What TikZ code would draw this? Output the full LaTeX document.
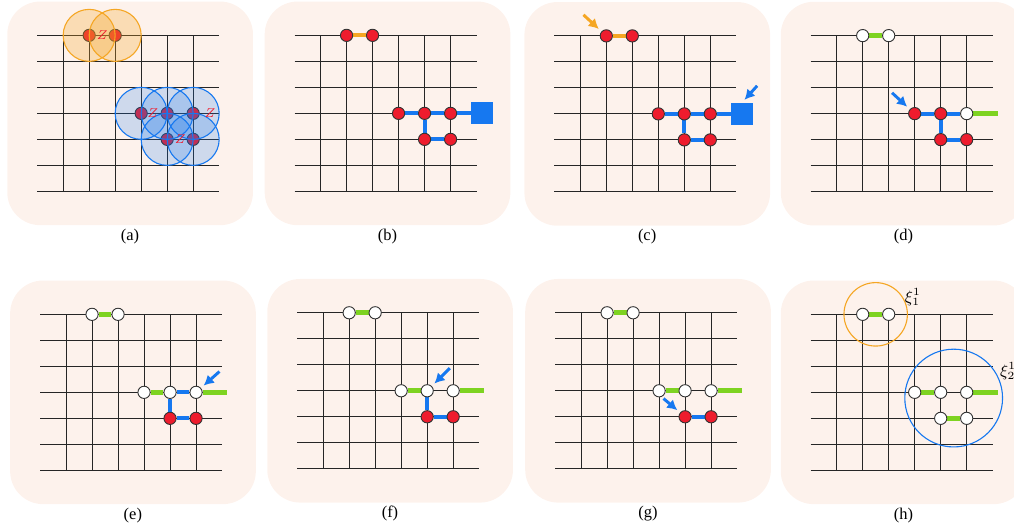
\documentclass[tikz,border=0pt]{standalone}
\usepackage{fontspec}
\setmainfont{Liberation Serif}
\usepackage{tikz}
\usetikzlibrary{arrows.meta, calc, positioning}

\definecolor{panelbg}{RGB}{253,242,236}
\definecolor{errred}{RGB}{238,28,45}
\definecolor{qblue}{RGB}{22,120,240}
\definecolor{qgreen}{RGB}{126,211,33}
\definecolor{qorange}{RGB}{245,166,35}

\pgfdeclarelayer{back}
\pgfdeclarelayer{mid}
\pgfsetlayers{back,mid,main}

\tikzset{
  gridline/.style={black!85, line width=0.55pt},
  qubit/.style={circle, draw=black!80, line width=0.5pt, minimum size=6.7pt, inner sep=0pt},
  errq/.style={qubit, fill=errred},
  okq/.style={qubit, fill=white},
  stab/.style={fill=qblue, minimum size=12pt, inner sep=0pt},
  bedge/.style={qblue, line width=2.2pt},
  gedge/.style={qgreen, line width=2.8pt},
  oedge/.style={qorange, line width=2.2pt},
  pointer/.style={-{Latex[length=5.5pt,width=6pt]}, line width=1.6pt, shorten >=2pt},
  zlab/.style={text=errred, font=\fontsize{7}{8}\selectfont, inner sep=0pt},
  orangezone/.style={draw=qorange, line width=0.6pt, fill=qorange, fill opacity=0.28},
  bluezone/.style={draw=qblue, line width=0.6pt, fill=qblue, fill opacity=0.2},
  caption/.style={font=\fontsize{9}{11}\selectfont},
}

% background, 7x6 lattice and caption of one panel
\newcommand{\latticebox}[1]{%
  \begin{pgfonlayer}{back}
    \fill[panelbg, rounded corners=18pt] (-1.15,1.3) rectangle (8.3,-7.3);
    \foreach \j in {0,...,6} \draw[gridline] (0,-\j) -- (7,-\j);
    \foreach \i in {1,...,6} \draw[gridline] (\i,0) -- (\i,-6);
  \end{pgfonlayer}
  \node[caption] (cap#1) at (3.57,-7.72) {(#1)};
}

\begin{document}
\begin{tikzpicture}[x=0.5cm, y=0.5cm]
    \useasboundingbox (0,0) rectangle (39,-20.423);

    % (a) errors and their Z regions
    \begin{scope}[shift={(1.43,-1.36)}]
        \latticebox{a}
        \node[errq] (a20) at (2,0) {};
        \node[errq] (a30) at (3,0) {};
        \node[errq] (a43) at (4,-3) {};
        \node[errq] (a53) at (5,-3) {};
        \node[errq] (a63) at (6,-3) {};
        \node[errq] (a54) at (5,-4) {};
        \node[errq] (a64) at (6,-4) {};
        \foreach \q in {a20,a30} \draw[orangezone] (\q) circle (1);
        \foreach \q in {a43,a53,a63,a54,a64} \draw[bluezone] (\q) circle (1);
        \node[zlab] (az1) at (2.5,0) {$Z$};
        \node[zlab] (az2) at (4.45,-3) {$Z$};
        \node[zlab] (az3) at (6.65,-3) {$Z$};
        \node[zlab] (az4) at (5.5,-4) {$Z$};
    \end{scope}

    % (b) clusters
    \begin{scope}[shift={(11.33,-1.36)}]
        \latticebox{b}
        \node[errq] (b20) at (2,0) {};
        \node[errq] (b30) at (3,0) {};
        \node[errq] (b43) at (4,-3) {};
        \node[errq] (b53) at (5,-3) {};
        \node[errq] (b63) at (6,-3) {};
        \node[errq] (b54) at (5,-4) {};
        \node[errq] (b64) at (6,-4) {};
        \node[stab] (bsq) at (7.22,-3) {};
        \begin{pgfonlayer}{mid}
            \draw[oedge] (b20) -- (b30);
            \draw[bedge] (b43) -- (b53) -- (b63) -- (bsq);
            \draw[bedge] (b53) -- (b54) -- (b64);
        \end{pgfonlayer}
    \end{scope}

    % (c) leaves picked
    \begin{scope}[shift={(21.32,-1.38)}]
        \latticebox{c}
        \node[errq] (c20) at (2,0) {};
        \node[errq] (c30) at (3,0) {};
        \node[errq] (c43) at (4,-3) {};
        \node[errq] (c53) at (5,-3) {};
        \node[errq] (c63) at (6,-3) {};
        \node[errq] (c54) at (5,-4) {};
        \node[errq] (c64) at (6,-4) {};
        \node[stab] (csq) at (7.22,-3) {};
        \coordinate (ct1) at (1.12,0.81);
        \coordinate (ct2) at (7.8,-1.92);
        \begin{pgfonlayer}{mid}
            \draw[oedge] (c20) -- (c30);
            \draw[bedge] (c43) -- (c53) -- (c63) -- (csq);
            \draw[bedge] (c53) -- (c54) -- (c64);
        \end{pgfonlayer}
        \draw[pointer, qorange] (ct1) -- (c20);
        \draw[pointer, qblue] (ct2) -- (csq.north);
    \end{scope}

    % (d)
    \begin{scope}[shift={(31.18,-1.37)}]
        \latticebox{d}
        \node[okq] (d20) at (2,0) {};
        \node[okq] (d30) at (3,0) {};
        \node[errq] (d43) at (4,-3) {};
        \node[errq] (d53) at (5,-3) {};
        \node[okq] (d63) at (6,-3) {};
        \node[errq] (d54) at (5,-4) {};
        \node[errq] (d64) at (6,-4) {};
        \coordinate (dend) at (7.2,-3);
        \coordinate (dt) at (3.13,-2.2);
        \begin{pgfonlayer}{mid}
            \draw[gedge] (d20) -- (d30);
            \draw[gedge] (d63) -- (dend);
            \draw[bedge] (d43) -- (d53) -- (d63);
            \draw[bedge] (d53) -- (d54) -- (d64);
        \end{pgfonlayer}
        \draw[pointer, qblue] (dt) -- (d43);
    \end{scope}

    % (e)
    \begin{scope}[shift={(1.54,-12.09)}]
        \latticebox{e}
        \node[okq] (e20) at (2,0) {};
        \node[okq] (e30) at (3,0) {};
        \node[okq] (e43) at (4,-3) {};
        \node[okq] (e53) at (5,-3) {};
        \node[okq] (e63) at (6,-3) {};
        \node[errq] (e54) at (5,-4) {};
        \node[errq] (e64) at (6,-4) {};
        \coordinate (eend) at (7.2,-3);
        \coordinate (et) at (6.9,-2.2);
        \begin{pgfonlayer}{mid}
            \draw[gedge] (e20) -- (e30);
            \draw[gedge] (e43) -- (e53);
            \draw[gedge] (e63) -- (eend);
            \draw[bedge] (e63) -- (e53) -- (e54) -- (e64);
        \end{pgfonlayer}
        \draw[pointer, qblue] (et) -- (e63);
    \end{scope}

    % (f)
    \begin{scope}[shift={(11.43,-12.03)}]
        \latticebox{f}
        \node[okq] (f20) at (2,0) {};
        \node[okq] (f30) at (3,0) {};
        \node[okq] (f43) at (4,-3) {};
        \node[okq] (f53) at (5,-3) {};
        \node[okq] (f63) at (6,-3) {};
        \node[errq] (f54) at (5,-4) {};
        \node[errq] (f64) at (6,-4) {};
        \coordinate (fend) at (7.2,-3);
        \coordinate (ft) at (5.87,-2.13);
        \begin{pgfonlayer}{mid}
            \draw[gedge] (f20) -- (f30);
            \draw[gedge] (f43) -- (f53);
            \draw[gedge] (f63) -- (fend);
            \draw[bedge] (f53) -- (f54) -- (f64);
        \end{pgfonlayer}
        \draw[pointer, qblue] (ft) -- (f53);
    \end{scope}

    % (g)
    \begin{scope}[shift={(21.35,-12.03)}]
        \latticebox{g}
        \node[okq] (g20) at (2,0) {};
        \node[okq] (g30) at (3,0) {};
        \node[okq] (g43) at (4,-3) {};
        \node[okq] (g53) at (5,-3) {};
        \node[okq] (g63) at (6,-3) {};
        \node[errq] (g54) at (5,-4) {};
        \node[errq] (g64) at (6,-4) {};
        \coordinate (gend) at (7.2,-3);
        \coordinate (gt) at (4.17,-3.3);
        \begin{pgfonlayer}{mid}
            \draw[gedge] (g20) -- (g30);
            \draw[gedge] (g43) -- (g53);
            \draw[gedge] (g63) -- (gend);
            \draw[bedge] (g54) -- (g64);
        \end{pgfonlayer}
        \draw[pointer, qblue] (gt) -- (g54);
    \end{scope}

    % (h) corrected clusters
    \begin{scope}[shift={(31.18,-12.09)}]
        \latticebox{h}
        \node[okq] (h20) at (2,0) {};
        \node[okq] (h30) at (3,0) {};
        \node[okq] (h43) at (4,-3) {};
        \node[okq] (h53) at (5,-3) {};
        \node[okq] (h63) at (6,-3) {};
        \node[okq] (h54) at (5,-4) {};
        \node[okq] (h64) at (6,-4) {};
        \coordinate (hend) at (7.2,-3);
        \begin{pgfonlayer}{mid}
            \draw[gedge] (h20) -- (h30);
            \draw[gedge] (h43) -- (h53);
            \draw[gedge] (h63) -- (hend);
            \draw[gedge] (h54) -- (h64);
        \end{pgfonlayer}
        \draw[qorange, line width=0.6pt] (2.5,0) circle (1.22);
        \draw[qblue, line width=0.6pt] (5.5,-3.22) circle (1.88);
        \node[font=\fontsize{9}{11}\selectfont] (xi1) at (3.93,0.68) {$\xi_1^1$};
        \node[font=\fontsize{9}{11}\selectfont] (xi2) at (7.59,-2.2) {$\xi_2^1$};
    \end{scope}

\end{tikzpicture}
\end{document}
